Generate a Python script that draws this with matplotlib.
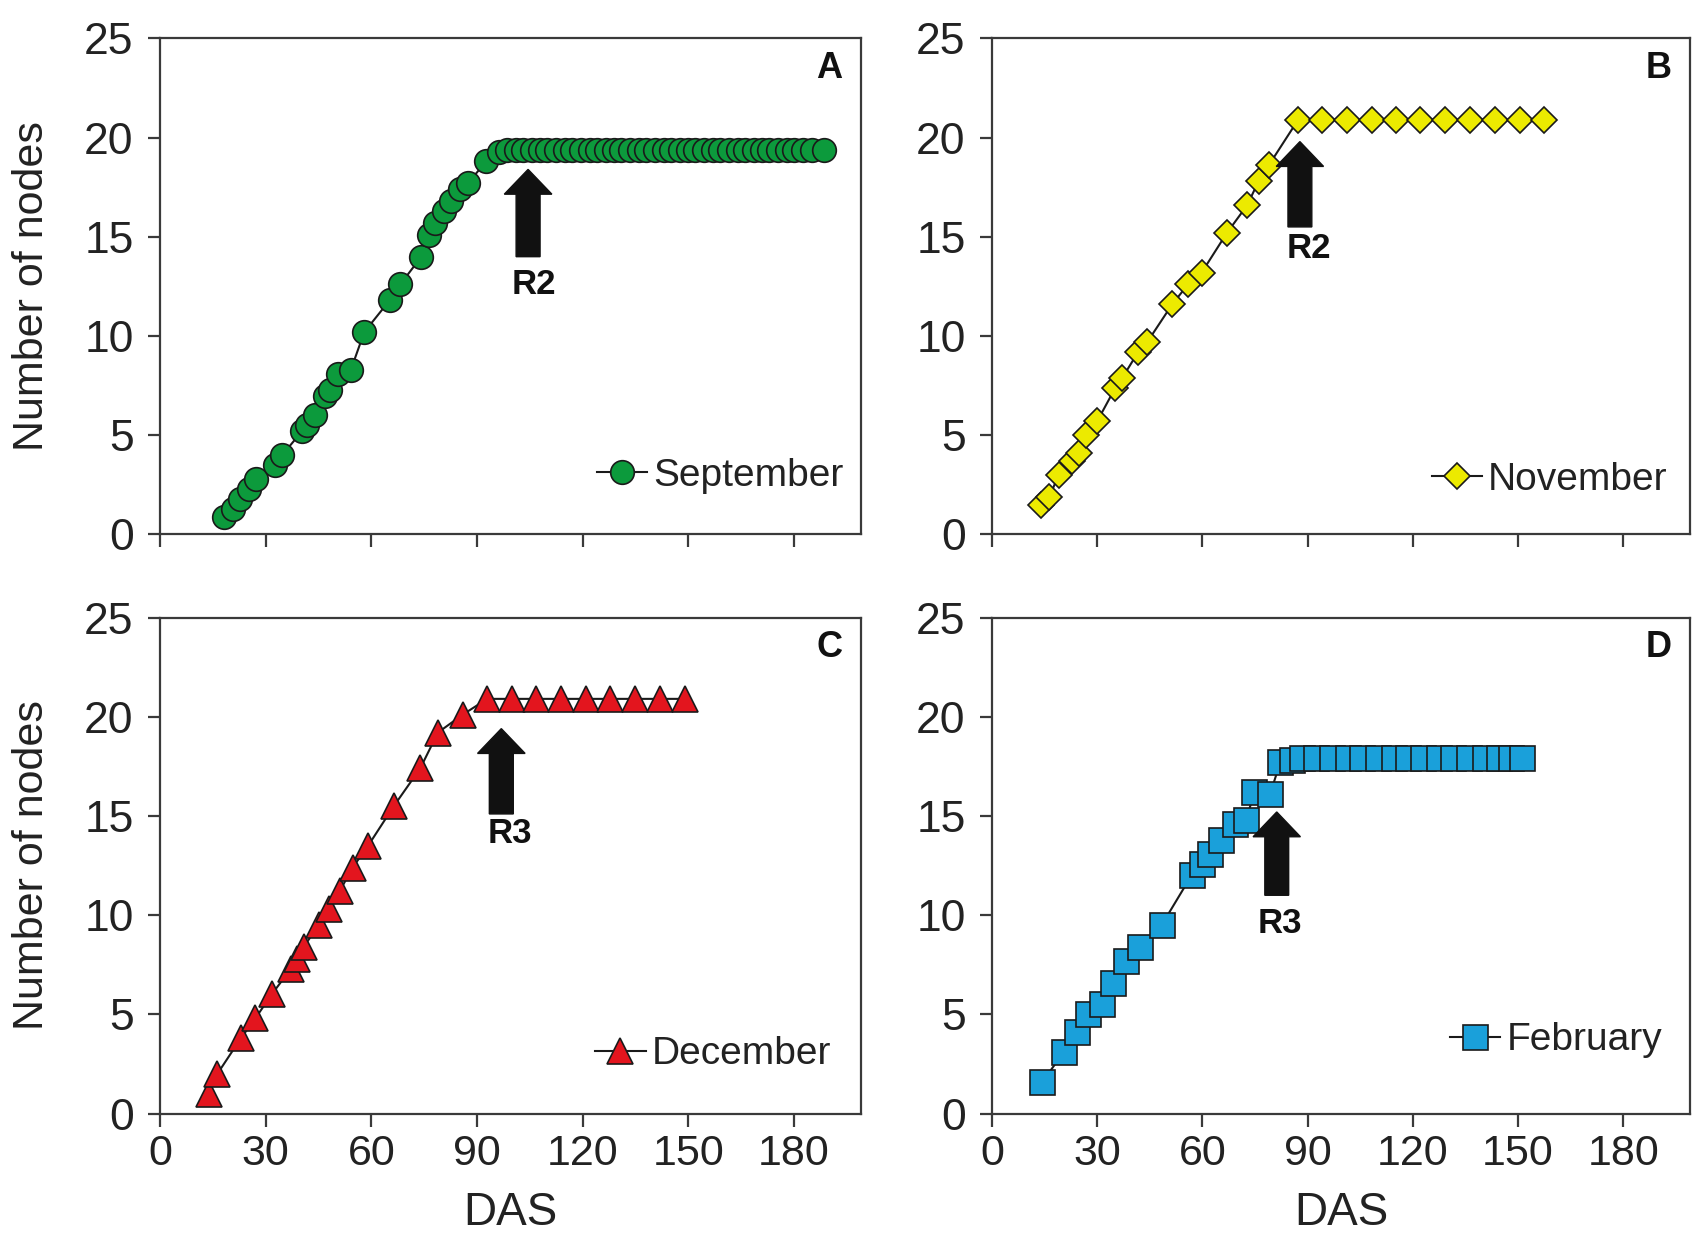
import numpy as np
import matplotlib.pyplot as plt
from matplotlib.patches import FancyArrow

# September (A)
sep_das = [18.2, 20.8, 22.8, 25.4, 27.4, 32.8, 34.7, 40.3, 41.8, 44.0, 46.8, 48.3, 50.6, 54.2, 58.0,
           65.2, 68.2, 74.2, 76.4, 78.2, 80.6, 82.6, 85.2, 87.4, 92.6, 96.3,
           98.5, 101, 103, 105.5, 108, 110, 112.5, 115, 117, 119.5, 122, 124, 126.5, 129, 131,
           133.5, 136, 138, 140.5, 143, 145, 147.5, 150, 152, 154.5, 157, 159, 161.5, 164, 166,
           168.5, 171, 173, 175.5, 178, 180, 182.5, 185, 188.5]
sep_nodes = [0.9, 1.3, 1.8, 2.3, 2.8, 3.5, 4.0, 5.2, 5.5, 6.0, 7.0, 7.3, 8.1, 8.3, 10.2,
             11.8, 12.6, 14.0, 15.1, 15.7, 16.3, 16.8, 17.4, 17.7, 18.8, 19.3,
             19.4, 19.4, 19.4, 19.4, 19.4, 19.4, 19.4, 19.4, 19.4, 19.4, 19.4, 19.4, 19.4, 19.4, 19.4,
             19.4, 19.4, 19.4, 19.4, 19.4, 19.4, 19.4, 19.4, 19.4, 19.4, 19.4, 19.4, 19.4, 19.4, 19.4,
             19.4, 19.4, 19.4, 19.4, 19.4, 19.4, 19.4, 19.4, 19.4]

# November (B)
nov_das = [13.9, 16.4, 19.0, 22.9, 24.9, 26.8, 30.0, 35.2, 37.2, 41.7, 44.3, 51.4, 55.9, 59.8,
           67.0, 72.8, 76.0, 78.9, 87.3, 94.2, 101.3, 108.4, 115.2, 122.0, 129.1, 136.3,
           143.4, 150.5, 157.4]
nov_nodes = [1.5, 1.9, 3.0, 3.7, 4.1, 5.0, 5.7, 7.4, 7.9, 9.2, 9.7, 11.6, 12.6, 13.2,
             15.2, 16.6, 17.8, 18.6, 20.9, 20.9, 20.9, 20.9, 20.9, 20.9, 20.9, 20.9,
             20.9, 20.9, 20.9]

# December (C)
dec_das = [14.0, 16.3, 23.0, 27.1, 31.7, 37.2, 38.9, 40.8, 45.1, 48.1, 51.0, 54.7, 59.1,
           66.4, 73.9, 78.9, 85.9, 92.9, 99.9, 106.8, 113.9, 120.8, 127.8, 134.9, 141.9, 148.9]
dec_nodes = [1.0, 2.0, 3.8, 4.8, 6.0, 7.3, 7.8, 8.4, 9.5, 10.3, 11.2, 12.4, 13.5,
             15.5, 17.4, 19.2, 20.1, 20.9, 20.9, 20.9, 20.9, 20.9, 20.9, 20.9, 20.9, 20.9]

# February (D)
feb_das = [14.4, 20.5, 24.2, 27.4, 31.3, 34.4, 38.3, 42.2, 48.4, 56.9, 59.9, 62.1, 65.3,
           69.2, 72.5, 74.8, 79.3, 82.2, 85.5, 88.5, 92.5, 97, 101.5, 105.5, 110, 114.5,
           118.5, 123, 127.5, 131.5, 136, 140.5, 144.5, 148, 151]
feb_nodes = [1.6, 3.1, 4.1, 5.0, 5.5, 6.6, 7.7, 8.4, 9.5, 12.0, 12.6, 13.1, 13.8,
             14.6, 14.8, 16.2, 16.1, 17.7, 17.8, 17.9, 17.9, 17.9, 17.9, 17.9, 17.9, 17.9,
             17.9, 17.9, 17.9, 17.9, 17.9, 17.9, 17.9, 17.9, 17.9]

# arrows: (x, tail, tip), labels
arrow_x = [104.5, 87.8, 96.9, 81.2]
arrow_tail = [14.0, 15.5, 15.1, 11.0]
arrow_tip = [18.4, 19.8, 19.4, 15.2]
stage_label = ['R2', 'R2', 'R3', 'R3']
stage_xy = [(106, 12.6), (90.3, 14.4), (99.2, 14.1), (82.2, 9.6)]

panel_letters = ['A', 'B', 'C', 'D']
series_names = ['September', 'November', 'December', 'February']
xticks = [0, 30, 60, 90, 120, 150, 180]
yticks = [0, 5, 10, 15, 20, 25]

plt.rcParams['font.family'] = ['Liberation Sans', 'DejaVu Sans']
narrow = ['Liberation Sans Narrow', 'Liberation Sans', 'DejaVu Sans']

fig = plt.figure(figsize=(17.07, 12.40), dpi=100)
positions = [[0.0937, 0.569, 0.4107, 0.400],
             [0.5811, 0.569, 0.4089, 0.400],
             [0.0937, 0.102, 0.4107, 0.400],
             [0.5811, 0.102, 0.4089, 0.400]]

data = [(sep_das, sep_nodes, 'o', '#0c9a3c', 17),
        (nov_das, nov_nodes, 'D', '#ecea00', 13.5),
        (dec_das, dec_nodes, '^', '#e3151e', 19),
        (feb_das, feb_nodes, 's', '#1aa0da', 18)]
leg_anchor = [(0.975, 0.118), (0.968, 0.11), (0.957, 0.119), (0.96, 0.148)]

for i in range(4):
    ax = fig.add_axes(positions[i])
    xs, ys, mk, col, ms = data[i]
    ax.plot(xs, ys, color='#1a1a1a', lw=1.5, marker=mk, ms=ms, mfc=col,
            mec='#1a1a1a', mew=1.2, label=series_names[i], zorder=3)
    ax.set_xlim(0, 199)
    ax.set_ylim(0, 25)
    ax.set_xticks(xticks)
    ax.set_yticks(yticks)
    for s in ax.spines.values():
        s.set_linewidth(1.6)
        s.set_color('#3a3a3a')
    ax.tick_params(direction='out', length=9, width=1.6, color='#3a3a3a')
    ax.tick_params(axis='y', labelsize=32, pad=10, labelcolor='#222222')
    ax.tick_params(axis='x', labelsize=31, pad=6, labelcolor='#222222')
    for lab in ax.get_xticklabels():
        lab.set_family(narrow)
    if i < 2:
        ax.set_xticklabels([])
    else:
        ax.set_xlabel('DAS', fontsize=33, family=narrow, color='#222222', va='center')
        ax.xaxis.set_label_coords(0.5, -0.2)
    if i % 2 == 0:
        ax.set_ylabel('Number of nodes', fontsize=31, color='#222222', va='center')
        ax.yaxis.set_label_coords(-0.183, 0.5)

    ax.text(0.955, 0.94, panel_letters[i], transform=ax.transAxes, fontsize=26,
            fontweight='bold', ha='center', va='center', color='#111111')

    arr = FancyArrow(arrow_x[i], arrow_tail[i], 0, arrow_tip[i] - arrow_tail[i],
                     width=6.8, head_width=13.5, head_length=1.25,
                     length_includes_head=True, color='#111111', zorder=4)
    ax.add_patch(arr)
    ax.text(stage_xy[i][0], stage_xy[i][1], stage_label[i], fontsize=25,
            fontweight='bold', family=narrow, ha='center', va='center', color='#111111')

    ax.legend(loc='center right', bbox_to_anchor=leg_anchor[i], frameon=False,
              fontsize=28, handlelength=1.3, handletextpad=0.15, borderpad=0,
              borderaxespad=0, numpoints=1, labelcolor='#222222')

fig.savefig('out.png', dpi=100)
